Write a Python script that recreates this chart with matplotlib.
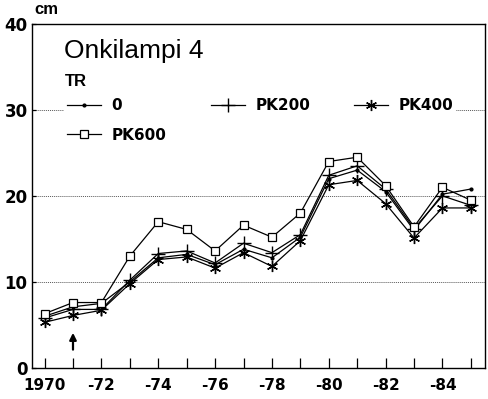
import numpy as np
import matplotlib
matplotlib.use('Agg')
import matplotlib.pyplot as plt

plt.rcParams['font.family'] = ['Liberation Sans', 'DejaVu Sans']

# Data
years = list(range(1970, 1986))
s0 = [6.0, 7.1, 7.5, 10.0, 12.8, 13.2, 12.0, 13.8, 12.8, 15.2, 22.0, 23.0, 20.5, 16.0, 20.2, 20.8]
pk200 = [5.8, 6.8, 6.8, 10.2, 13.3, 13.6, 12.2, 14.5, 13.4, 15.5, 22.4, 23.5, 20.8, 16.2, 20.0, 18.9]
pk400 = [5.3, 6.1, 6.7, 9.8, 12.6, 12.9, 11.6, 13.4, 11.8, 14.8, 21.3, 21.8, 19.1, 15.1, 18.6, 18.6]
pk600 = [6.3, 7.6, 7.6, 13.0, 17.0, 16.1, 13.6, 16.6, 15.2, 18.0, 24.0, 24.5, 21.2, 16.4, 21.0, 19.5]
xtick_labels = ['1970', '-72', '-74', '-76', '-78', '-80', '-82', '-84']

fig = plt.figure(figsize=(4.89, 3.99), dpi=100)
ax = fig.add_axes([0.065, 0.078, 0.927, 0.862])

for yv in (10, 20, 30):
    ax.axhline(yv, color='0.35', linestyle=(0, (1, 1)), lw=0.7, zorder=0)

l0, = ax.plot(years, s0, color='black', lw=0.9, marker='.', markersize=4, label='0')
l200, = ax.plot(years, pk200, color='black', lw=0.9, marker='+', markersize=10, markeredgewidth=1.0, label='PK200')
l400, = ax.plot(years, pk400, color='black', lw=0.9, marker=(6, 2, 0), markersize=8, markeredgewidth=1.0, label='PK400')
l600, = ax.plot(years, pk600, color='black', lw=0.9, marker='s', markersize=5.5, markerfacecolor='white',
                markeredgewidth=0.9, label='PK600')

ax.set_xlim(1969.55, 1985.5)
ax.set_ylim(0, 40)
ax.set_xticks(years)
ax.set_xticklabels([xtick_labels[i // 2] if i % 2 == 0 else '' for i in range(len(years))])
ax.set_yticks([0, 10, 20, 30, 40])
ax.tick_params(axis='x', direction='in', length=7, width=0.9, labelsize=11, pad=7)
ax.tick_params(axis='y', direction='in', length=3, width=0.9, labelsize=12, pad=3)
for lab in ax.get_xticklabels() + ax.get_yticklabels():
    lab.set_fontweight('bold')
    lab.set_family('DejaVu Sans')
for sp in ax.spines.values():
    sp.set_linewidth(1.0)

ax.text(0.07, 0.955, 'Onkilampi 4', transform=ax.transAxes, fontsize=19, va='top', ha='left')
ax.text(0.072, 0.855, 'TR', transform=ax.transAxes, fontsize=12, fontweight='bold', va='top', ha='left')
fig.text(0.07, 0.975, 'cm', fontsize=12, fontweight='bold', va='center', ha='left')

# column-wise fill: 0, PK600 | PK200 | PK400
leg = ax.legend([l0, l600, l200, l400], ['0', 'PK600', 'PK200', 'PK400'],
                loc='upper left', bbox_to_anchor=(0.055, 0.815), ncol=3, frameon=True,
                prop={'weight': 'bold', 'size': 11, 'family': 'DejaVu Sans'}, handlelength=2.2,
                columnspacing=2.9, labelspacing=0.95, borderpad=0.2, handletextpad=0.7)
leg.get_frame().set_edgecolor('none')
leg.get_frame().set_facecolor('white')
leg.get_frame().set_alpha(1)

ax.annotate('', xy=(1971, 4.4), xytext=(1971, 1.8),
            arrowprops=dict(arrowstyle='-|>', color='black', lw=1.6, mutation_scale=10))

fig.savefig('out.png', dpi=100)
